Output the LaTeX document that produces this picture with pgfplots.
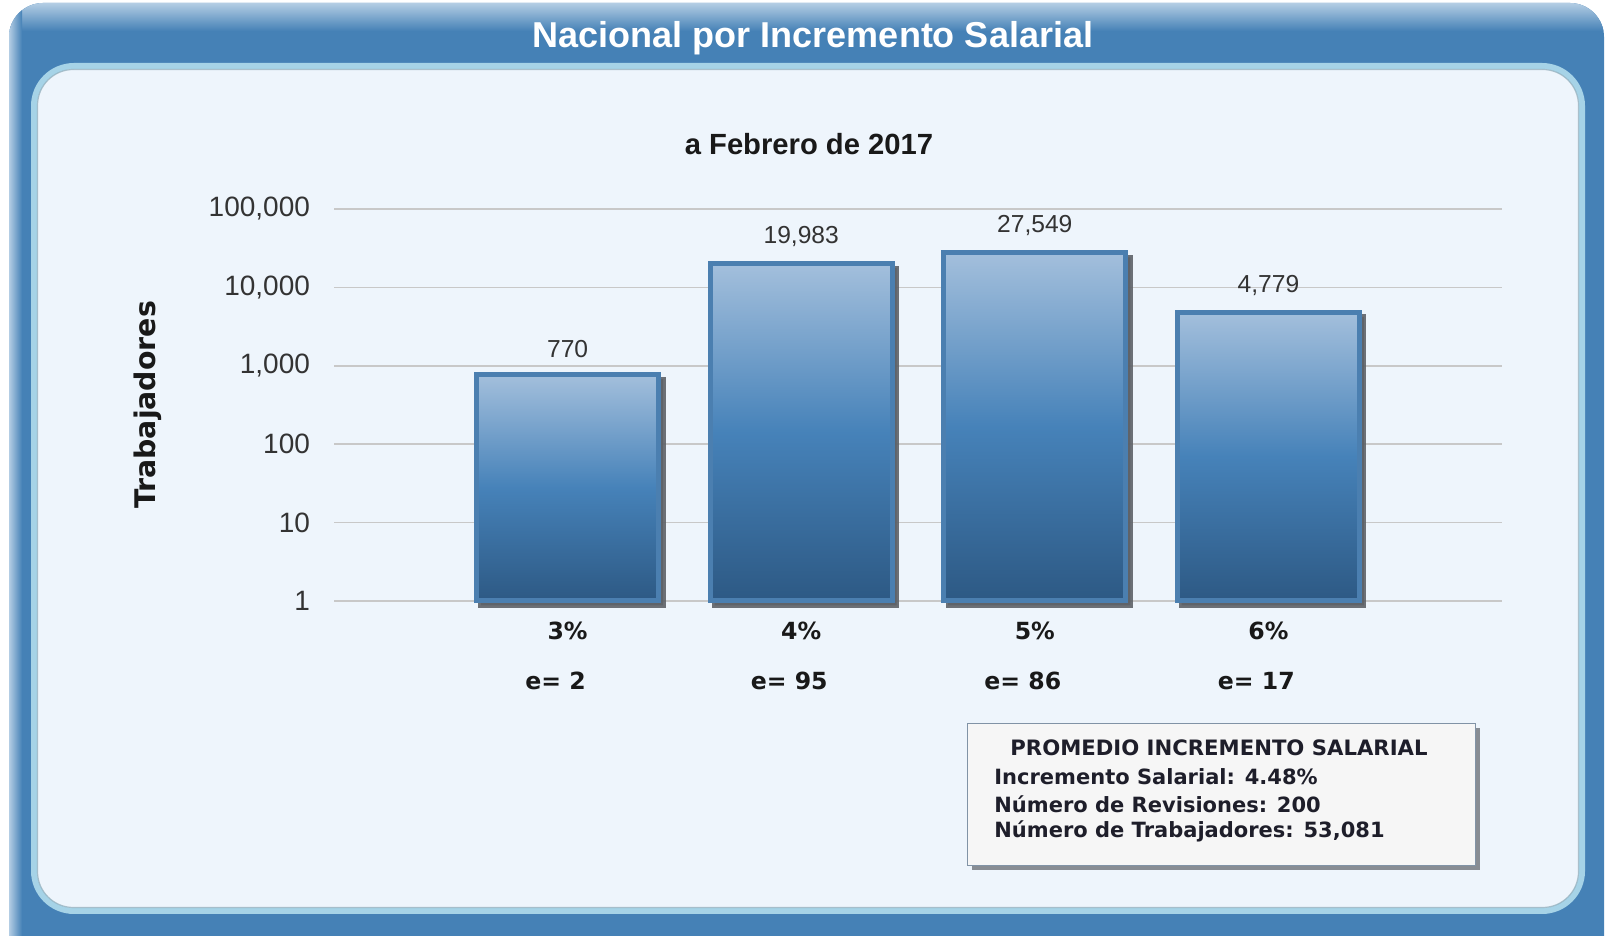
\documentclass[border=0pt]{standalone}
\usepackage{pgfplots}
\pgfplotsset{compat=1.18}
\usepackage{fontspec}
\setmainfont{Liberation Sans}
\newfontfamily\verd{DejaVu Sans}
\usetikzlibrary{shadows}
\definecolor{frameblue}{HTML}{4581B6}
\definecolor{framelight}{HTML}{B3CDE4}
\definecolor{panelfill}{HTML}{EEF5FC}
\definecolor{panelborder}{HTML}{A6D3E7}
\definecolor{bartop}{HTML}{A3BFDC}
\definecolor{barmid}{HTML}{4682B9}
\definecolor{barbot}{HTML}{2D5984}
\definecolor{baredge}{HTML}{4B7FB0}
\definecolor{gridgray}{HTML}{C8C8C8}
\definecolor{ticktext}{HTML}{333333}
\definecolor{boxborder}{HTML}{8193A6}
\definecolor{boxfill}{HTML}{F6F6F6}
\definecolor{boxtext}{HTML}{1E1E2A}
\definecolor{shadowgray}{HTML}{5E6268}

\pgfplotstableread{
x y
1 770
2 19983
3 27549
4 4779
}\datatable

\begin{document}
\begin{tikzpicture}[x=0.5pt,y=0.5pt]
\useasboundingbox (0,0) rectangle (1605,936);
\clip (0,0) rectangle (1605,936);
% outer frame
\fill[frameblue, rounded corners=17pt] (9,-40) rectangle (1604,933);
\begin{scope}
\clip[rounded corners=17pt] (9,-40) rectangle (1604,933);
\shade[top color=framelight, bottom color=frameblue] (9,933) rectangle (1604,905);
\shade[left color=framelight, right color=frameblue] (9,-40) rectangle (22,933);
\end{scope}
\node[text=white, font=\bfseries\fontsize{18}{20}\selectfont] at (813,898) {Nacional por Incremento Salarial};
% inner panel
\filldraw[fill=panelfill, draw=panelborder, line width=3pt, rounded corners=20pt] (34,25) rectangle (1582,870);
\draw[draw=black!25!panelborder, line width=0.6pt, opacity=0.6, rounded corners=18pt] (37.5,28.5) rectangle (1578.5,866.5);
\node[font=\bfseries\fontsize{14.6}{16}\selectfont, text=black!90] at (809,792) {a Febrero de 2017};

\begin{axis}[
  at={(167pt,167.5pt)}, anchor=south west,
  width=584pt, height=196pt, scale only axis,
  ymode=log, log basis y=10, ymin=1, ymax=100000,
  xmin=0, xmax=5,
  axis line style={draw=none},
  major tick length=0, yminorticks=false,
  ymajorgrids, grid style={gridgray, line width=0.75pt},
  ytick={1,10,100,1000,10000,100000},
  yticklabels={1,10,100,{1,000},{10,000},{100,000}},
  yticklabel style={font=\fontsize{14}{16}\selectfont, text=ticktext, anchor=east, xshift=-8.5pt},
  xtick={1,2,3,4},
  xticklabels={{3\%\\e= 2\hspace*{12pt}},{4\%\\e= 95\hspace*{12pt}},{5\%\\e= 86\hspace*{12pt}},{6\%\\e= 17\hspace*{12pt}}},
  xticklabel style={font=\verd\bfseries\fontsize{11.8}{25}\selectfont, align=center, anchor=north, yshift=-7pt, text=black!90},
  ylabel={Trabajadores},
  ylabel style={font=\verd\bfseries\fontsize{14.2}{16}\selectfont, at={(axis description cs:-0.1595,0.5)}, anchor=center, text=black!90},
  clip=false,
  ybar, bar width=0.78, bar shift=0pt,
  point meta=rawy,
  every node near coord/.append style={font=\fontsize{12.3}{14}\selectfont, text=ticktext, anchor=south, yshift=4pt,
    /pgf/number format/fixed, /pgf/number format/precision=0, /pgf/number format/1000 sep={,}, /pgf/number format/assume math mode=true},
  barstyle/.style={draw=baredge, line width=2.5pt, top color=bartop, bottom color=barbot, middle color=barmid, nodes near coords},
  shadowstyle/.style={draw=shadowgray, line width=2.5pt, fill=shadowgray, xshift=2.2pt, yshift=-2.2pt, opacity=0.9},
]
% shadows
\addplot[shadowstyle] table[x=x, y=y] {\datatable};
% bars
\addplot[barstyle] table[x=x, y=y, skip coords between index={1}{4}] {\datatable};
\addplot[barstyle] table[x=x, y=y, skip coords between index={0}{1}, skip coords between index={2}{4}] {\datatable};
\addplot[barstyle] table[x=x, y=y, skip coords between index={0}{2}, skip coords between index={3}{4}] {\datatable};
\addplot[barstyle] table[x=x, y=y, skip coords between index={0}{3}] {\datatable};
\end{axis}

% summary box
\node[draw=boxborder, line width=0.7pt, fill=boxfill,
  drop shadow={shadow xshift=2pt, shadow yshift=-2pt, fill=shadowgray, opacity=0.7},
  minimum width=254pt, minimum height=71pt, anchor=north west, inner sep=0pt] at (967,213) {};
\node[font=\verd\bfseries\fontsize{10.6}{12}\selectfont, text=boxtext] at (1219,188.5) {PROMEDIO INCREMENTO SALARIAL};
\node[font=\verd\bfseries\fontsize{10.5}{12}\selectfont, text=boxtext, anchor=west, inner sep=0pt] at (994,159.5) {Incremento Salarial: 4.48\%};
\node[font=\verd\bfseries\fontsize{10.5}{12}\selectfont, text=boxtext, anchor=west, inner sep=0pt] at (994,132) {Número de Revisiones: 200};
\node[font=\verd\bfseries\fontsize{10.5}{12}\selectfont, text=boxtext, anchor=west, inner sep=0pt] at (994,104.5) {Número de Trabajadores: 53,081};
\end{tikzpicture}
\end{document}
